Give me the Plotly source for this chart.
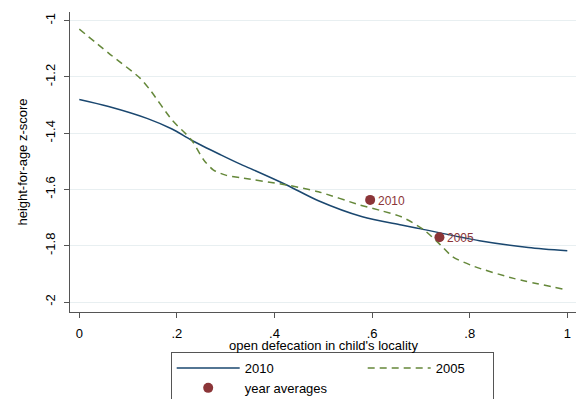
import plotly.graph_objects as go

# 2010 fitted curve
x_2010 = [0.0, 0.06, 0.14, 0.19, 0.23, 0.29, 0.33, 0.35, 0.425, 0.49, 0.58, 0.66, 0.70, 0.82, 0.92, 1.0]
y_2010 = [-1.28, -1.305, -1.348, -1.385, -1.425, -1.477, -1.51, -1.525, -1.584, -1.64, -1.697, -1.726, -1.74, -1.782, -1.806, -1.818]

# 2005 fitted curve
x_2005 = [0.0, 0.06, 0.125, 0.145, 0.19, 0.23, 0.255, 0.275, 0.30, 0.33, 0.425, 0.49, 0.575, 0.62, 0.66, 0.705, 0.74, 0.765, 0.81, 0.89, 1.0]
y_2005 = [-1.03, -1.115, -1.205, -1.246, -1.353, -1.424, -1.495, -1.531, -1.549, -1.558, -1.584, -1.608, -1.655, -1.676, -1.697, -1.742, -1.797, -1.839, -1.874, -1.916, -1.957]

# year averages
avg_x = [0.596, 0.738]
avg_y = [-1.637, -1.77]
avg_labels = ["2010", "2005"]

y_ticks = [-1, -1.2, -1.4, -1.6, -1.8, -2]
y_ticktext = ["-1", "-1.2", "-1.4", "-1.6", "-1.8", "-2"]
x_ticks = [0, 0.2, 0.4, 0.6, 0.8, 1]
x_ticktext = ["0", ".2", ".4", ".6", ".8", "1"]
x_title = "open defecation in child's locality"
y_title = "height-for-age z-score"

BLUE = "#1a476f"
GREEN = "#65883a"
MAROON = "#8b3538"
FONT = "Liberation Sans, Arial, sans-serif"

fig = go.Figure()
fig.add_trace(go.Scatter(x=x_2010, y=y_2010, mode="lines", name="2010",
                         line=dict(color=BLUE, width=1.5, shape="spline", smoothing=0.8),
                         legendwidth=113))
fig.add_trace(go.Scatter(x=x_2005, y=y_2005, mode="lines", name="2005",
                         line=dict(color=GREEN, width=1.5, dash="7px,5px", shape="spline", smoothing=0.7),
                         legendwidth=52))
fig.add_trace(go.Scatter(x=avg_x, y=avg_y, mode="markers", name="year averages",
                         marker=dict(color=MAROON, size=10), legendwidth=113))

for xv, yv, lab in zip(avg_x, avg_y, avg_labels):
    fig.add_annotation(x=xv, y=yv, text=lab, showarrow=False, xanchor="left",
                       yanchor="middle", xshift=6, yshift=-1,
                       font=dict(color=MAROON, size=12, family=FONT))

# x-axis title as a paper-anchored label just below the tick labels
fig.add_annotation(x=0.5, y=-0.11, xref="paper", yref="paper", text=x_title,
                   showarrow=False, xanchor="center", yanchor="middle",
                   font=dict(size=13, family=FONT, color="black"))

fig.update_layout(
    width=576, height=399,
    margin=dict(l=70, r=0, t=12, b=87, autoexpand=False),
    plot_bgcolor="white", paper_bgcolor="white",
    font=dict(family=FONT, size=12, color="black"),
    legend=dict(orientation="h", x=0.199, xanchor="left", y=-0.1333, yanchor="top",
                bordercolor="#555555", borderwidth=1, itemwidth=63,
                font=dict(size=13, family=FONT), tracegroupgap=0),
    xaxis=dict(range=[-0.01906, 1.01783], tickvals=x_ticks, ticktext=x_ticktext,
               showgrid=False, zeroline=False, showline=True, linecolor="#555555",
               linewidth=1.3, ticks="outside", ticklen=5, tickcolor="#555555",
               tickfont=dict(size=13), automargin=False, ticklabelstandoff=4),
    yaxis=dict(range=[-2.0355, -0.969], tickvals=y_ticks, ticktext=y_ticktext,
               tickangle=-90, showgrid=True, gridcolor="#e8eff1", gridwidth=1.2,
               zeroline=False, showline=True, linecolor="#555555", linewidth=1.3,
               ticks="outside", ticklen=5, tickcolor="#555555", tickfont=dict(size=13),
               ticklabelstandoff=4, automargin=False,
               title=dict(text=y_title, font=dict(size=13), standoff=12)),
)

fig.write_html("out.html", config={"displayModeBar": False},
               post_script="document.body.style.margin='0';document.documentElement.style.overflow='hidden';document.body.style.overflow='hidden';")
